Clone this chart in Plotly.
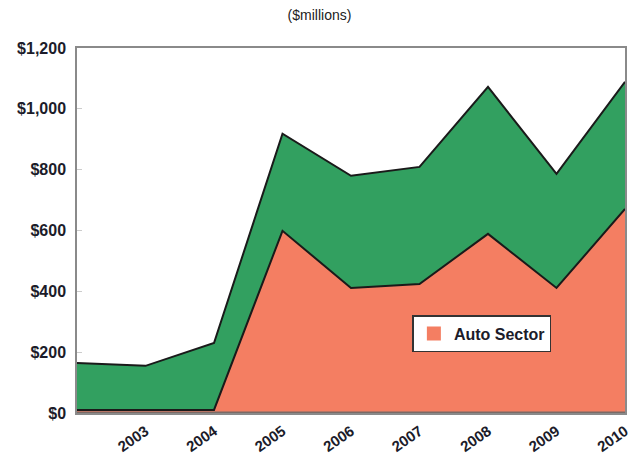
import plotly.graph_objects as go

# Annual investment, $ millions
years = [2002, 2003, 2004, 2005, 2006, 2007, 2008, 2009, 2010]
auto_sector = [10, 10, 10, 599, 411, 424, 589, 411, 671]
total = [164, 155, 230, 918, 780, 809, 1072, 786, 1089]
other = [t - a for t, a in zip(total, auto_sector)]

tick_years = [2003, 2004, 2005, 2006, 2007, 2008, 2009, 2010]
y_ticks = [0, 200, 400, 600, 800, 1000, 1200]
y_labels = ["$0", "$200", "$400", "$600", "$800", "$1,000", "$1,200"]

salmon = "#f47e62"
green = "#32a060"
ink = "#1c1c2a"
font_family = "Liberation Sans, Arial"

fig = go.Figure()
fig.add_trace(go.Scatter(
    x=years, y=auto_sector, stackgroup="s", mode="lines",
    line=dict(color="#1a1a1a", width=2), fillcolor=salmon,
    name="Auto Sector", showlegend=False, hoverinfo="skip"))
fig.add_trace(go.Scatter(
    x=years, y=other, stackgroup="s", mode="lines",
    line=dict(color="#1a1a1a", width=2), fillcolor=green,
    name="Other", showlegend=False, hoverinfo="skip"))
# legend entry with a square swatch
fig.add_trace(go.Scatter(
    x=[None], y=[None], mode="markers", name="Auto Sector",
    marker=dict(symbol="square", size=14, color=salmon)))

# heavier baseline along the x axis
fig.add_shape(type="line", xref="paper", yref="y", x0=0, x1=1, y0=0, y1=0,
              line=dict(color="#7a6a66", width=3))

fig.update_layout(
    width=639, height=466,
    margin=dict(l=77, r=14, t=48, b=53),
    paper_bgcolor="white", plot_bgcolor="white",
    title=dict(text="($millions)", x=0.5, xanchor="center", y=0.978, yanchor="top",
               font=dict(family=font_family, size=14, color="#222")),
    legend=dict(x=0.612, y=0.268, xanchor="left", yanchor="top",
                bgcolor="white", bordercolor="#333", borderwidth=1.5,
                font=dict(family=font_family, size=16, color=ink, weight="bold"),
                itemwidth=30),
    xaxis=dict(range=[2002, 2010], tickvals=tick_years, ticktext=[str(y) for y in tick_years],
               tickangle=-35, showgrid=False, zeroline=False, automargin=False,
               showline=True, mirror=True, linecolor="#8a8a8a", linewidth=1.5,
               ticklabelstandoff=2,
               tickfont=dict(family=font_family, size=15, color=ink, weight="bold"),
               ticks=""),
    yaxis=dict(range=[0, 1200], tickvals=y_ticks, ticktext=y_labels,
               showgrid=False, zeroline=False, automargin=False,
               showline=True, mirror=True, linecolor="#8a8a8a", linewidth=1.5,
               ticks="inside", ticklen=5, tickcolor="#cccccc",
               ticklabelstandoff=6,
               tickfont=dict(family=font_family, size=16, color=ink, weight="bold")),
    font=dict(family=font_family),
)

fig.write_html("out.html")
